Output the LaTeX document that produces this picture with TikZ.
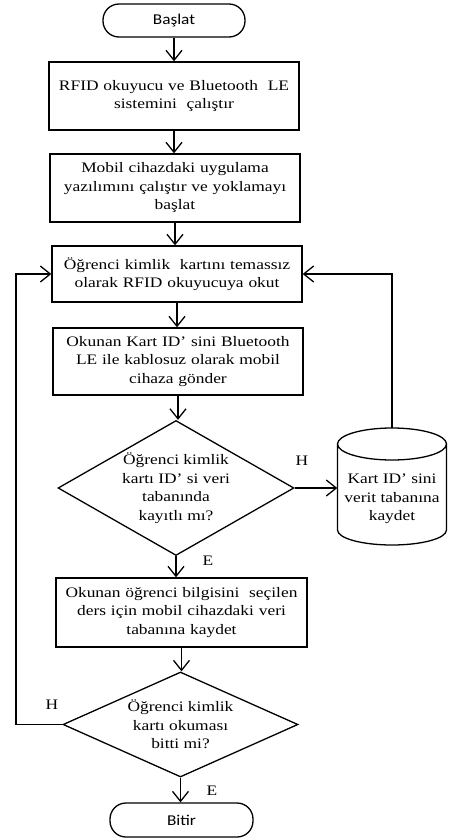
\documentclass[tikz,border=0pt]{standalone}
\usepackage{fontspec}
\setmainfont[FakeStretch=1.2]{Liberation Serif}
\newfontfamily\termfont[FakeStretch=1.15]{Carlito}
\usetikzlibrary{shapes.geometric,arrows.meta}
\begin{document}
\begin{tikzpicture}[x=1pt,y=1pt,
  every node/.style={font=\fontsize{14.5}{18.5}\selectfont, inner sep=0pt},
  box/.style={draw, line width=1.3pt, align=center, minimum width=250pt, text width=244pt},
  term/.style={draw, line width=1.3pt, rounded corners=16pt, minimum width=142pt, minimum height=33pt, font=\termfont\fontsize{15}{18}\selectfont},
  dec/.style={draw, diamond, line width=1.3pt, align=center},
  arr/.style={line width=1.3pt, -{Straight Barb[length=10pt,width=16pt]}},
  plain/.style={line width=1.3pt},
  lab/.style={font=\fontsize{14.5}{18}\selectfont}]
\useasboundingbox (0,0) rectangle (448,-838);

\node[term] (start) at (174,-20.5) {Başlat};
\node[box, minimum height=68pt] (b1) at (174,-96) {RFID okuyucu ve Bluetooth\ \ LE\\sistemini\ \ çalıştır};
\node[box, minimum height=68pt] (b2) at (175,-188) {Mobil cihazdaki uygulama\\yazılımını çalıştır ve yoklamayı\\başlat};
\node[box, minimum height=56pt] (b3) at (177,-274) {Öğrenci kimlik\ \ kartını temassız\\olarak RFID okuyucuya okut};
\node[box, minimum height=67pt] (b4) at (178,-361.5) {Okunan Kart ID’ sini Bluetooth\\LE ile kablosuz olarak mobil\\cihaza gönder};
\node[dec, aspect=1.75, minimum width=236pt, minimum height=135pt] (d1) at (176,-488) {Öğrenci kimlik\\kartı ID’ si veri\\tabanında\\kayıtlı mı?};
\node[box, minimum width=251pt, minimum height=69pt] (b5) at (181.5,-612.5) {Okunan öğrenci bilgisini\ \ seçilen\\ders için mobil cihazdaki veri\\tabanına kaydet};
\node[dec, aspect=2.24, minimum width=235pt, minimum height=105pt] (d2) at (180.5,-724.5) {Öğrenci kimlik\\kartı okuması\\bitti mi?};
\node[term, minimum width=143pt, minimum height=34pt] (end) at (181.5,-820) {Bitir};

% cylinder (data store)
\node[minimum width=109pt, minimum height=117pt] (cyl) at (392,-486.5) {};
\draw[plain] (337.5,-444) -- (337.5,-530)
  arc[start angle=180, end angle=360, x radius=54.5, y radius=15]
  -- (446.5,-444)
  arc[start angle=0, end angle=360, x radius=54.5, y radius=16];
\node[align=center] (cyltext) at (392,-499) {Kart ID’ sini\\verit tabanına\\kaydet};

% labels
\node[lab] (h1) at (302,-461) {H};
\node[lab] (e1) at (208,-561) {E};
\node[lab] (h2) at (52,-705) {H};
\node[lab] (e2) at (212,-791) {E};

% connectors
\draw[arr] (start.south) -- (start.south |- b1.north);
\draw[arr] (b1.south) -- (b1.south |- b2.north);
\draw[arr] (b2.south) -- (b2.south |- b3.north);
\draw[arr] (b3.south) -- (b3.south |- b4.north);
\draw[arr] (b4.south) -- (b4.south |- d1.north);
\draw[arr] (d1.south) -- (d1.south |- b5.north);
\draw[arr] (b5.south) -- (b5.south |- d2.north);
\draw[arr] (d2.south) -- (d2.south |- end.north);
\draw[arr] (d1.east) -- (d1.east -| cyl.west);
\draw[arr] (cyl.north) |- (b3.east);
\coordinate (lp) at (16,-724.5);
\draw[arr] (d2.west) -- (lp) |- (b3.west);
\end{tikzpicture}
\end{document}
